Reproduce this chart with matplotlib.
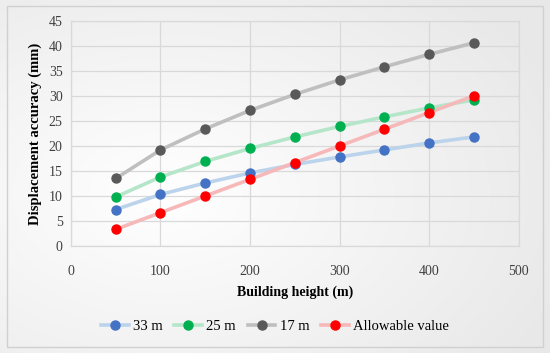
import numpy as np
import matplotlib
matplotlib.use("Agg")
import matplotlib.pyplot as plt
from matplotlib.lines import Line2D
from matplotlib.patches import Rectangle

heights = [50, 100, 150, 200, 250, 300, 350, 400, 450]
s33 = [7.3, 10.3, 12.6, 14.6, 16.3, 17.8, 19.2, 20.6, 21.8]
s25 = [9.8, 13.8, 16.9, 19.5, 21.8, 23.9, 25.8, 27.6, 29.2]
s17 = [13.5, 19.2, 23.4, 27.1, 30.3, 33.2, 35.8, 38.3, 40.6]
allow = [3.33, 6.67, 10.0, 13.33, 16.67, 20.0, 23.33, 26.67, 30.0]
labels = ["33 m", "25 m", "17 m", "Allowable value"]

plt.rcParams['font.family'] = ['Liberation Serif', 'DejaVu Serif']

fig = plt.figure(figsize=(5.5, 3.53), dpi=100)

# background gradient
bg = fig.add_axes([0, 0, 1, 1], zorder=-10)
xx, yy = np.meshgrid(np.linspace(0, 1, 200), np.linspace(0, 1, 200))
d = np.sqrt((xx - 0.3) ** 2 + (yy - 0.45) ** 2)
val = 1.0 - 0.09 * np.clip(d / 0.8, 0, 1)
bg.imshow(np.dstack([val, val, val]), extent=[0, 1, 0, 1], aspect='auto', origin='lower')
bg.add_patch(Rectangle((0.012, 0.017), 0.976, 0.966, fill=False, edgecolor='#d0d0d0', lw=1))
bg.set_xlim(0, 1); bg.set_ylim(0, 1)
bg.axis('off')

ax = fig.add_axes([0.129, 0.303, 0.814, 0.638])
ax.patch.set_alpha(0)

series = [
    (s33, '#4472C4', '#bcd3ec'),
    (s25, '#00B050', '#b5e6c9'),
    (s17, '#595959', '#bfbfbf'),
    (allow, '#FF0000', '#f6b8b8'),
]
handles = []
for (vals, mc, lc), lab in zip(series, labels):
    ax.plot(heights, vals, color=lc, lw=2.6, solid_capstyle='round', zorder=2)
    ax.plot(heights, vals, ls='none', marker='o', ms=6.5, color=mc, zorder=3)
    handles.append(Line2D([0], [0], color=lc, lw=2.6, marker='o', ms=6.5,
                          markerfacecolor=mc, markeredgecolor=mc, label=lab))

ax.set_xlim(0, 500)
ax.set_ylim(0, 45)
ax.set_xticks(range(0, 501, 100))
ax.set_yticks(range(0, 46, 5))
ax.grid(True, color='#d9d9d9', lw=0.9)
ax.set_axisbelow(True)
for sp in ax.spines.values():
    sp.set_color('#d9d9d9')
    sp.set_linewidth(0.9)
ax.tick_params(length=0, labelsize=10, colors='#404040', pad=6)
ax.tick_params(axis='x', pad=14)
ax.set_xlabel("Building height (m)", fontsize=10, fontweight='bold', labelpad=5)
ax.set_ylabel("Displacement accuracy (mm)", fontsize=10.5, fontweight='bold', labelpad=5)

fig.legend(handles=handles, loc='center', bbox_to_anchor=(0.5, 0.075), ncol=4,
           frameon=False, fontsize=10.5, handlelength=1.9, columnspacing=0.8,
           handletextpad=0.3)

fig.savefig("out.png", dpi=100)
